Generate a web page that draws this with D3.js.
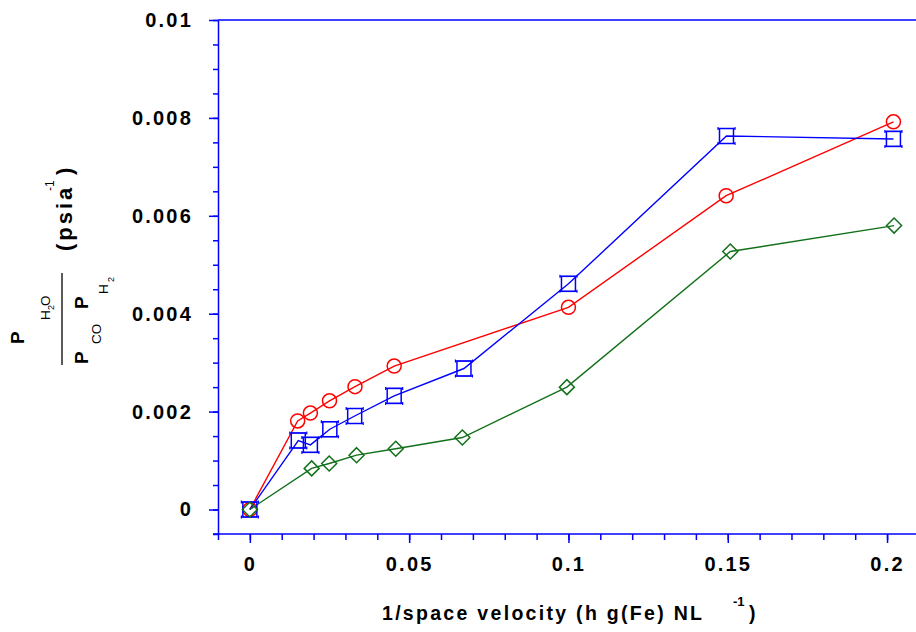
<!DOCTYPE html>
<html>
<head>
<meta charset="utf-8">
<script src="https://cdn.jsdelivr.net/npm/d3@7"></script>
<style>
  body { margin: 0; background: #fff; }
  text { font-family: "Liberation Sans", Arial, sans-serif; }
</style>
</head>
<body>
<div id="svg-container"></div>
<script>
// Chart values
const xTickValues = [0, 0.05, 0.1, 0.15, 0.2];
const xTickLabels = ["0", "0.05", "0.1", "0.15", "0.2"];
const yTickValues = [0, 0.002, 0.004, 0.006, 0.008, 0.01];
const yTickLabels = ["0", "0.002", "0.004", "0.006", "0.008", "0.01"];

const xRed = [0, 0.015, 0.019, 0.025, 0.033, 0.0453, 0.1, 0.1495, 0.202];
const yRed = [0, 0.00181, 0.00197, 0.00222, 0.00251, 0.00293, 0.00413, 0.00641, 0.00792];

const xBlue = [0, 0.0152, 0.019, 0.0251, 0.0329, 0.0453, 0.0672, 0.1, 0.1496, 0.202];
const yBlue = [0, 0.00141, 0.00132, 0.00164, 0.00191, 0.00232, 0.00288, 0.00461, 0.00763, 0.00757];

const xGreen = [0, 0.0194, 0.0249, 0.0335, 0.0458, 0.0667, 0.0995, 0.1508, 0.2022];
const yGreen = [0, 0.00084, 0.00094, 0.00111, 0.00124, 0.00147, 0.0025, 0.00527, 0.0058];

const width = 916;
const height = 632;
const axisColor = "#0000ff";

const series = [
  { name: "red", color: "#ff0000", marker: "circle", xs: xRed, ys: yRed },
  { name: "blue", color: "#0000ff", marker: "square", xs: xBlue, ys: yBlue },
  { name: "green", color: "#12701a", marker: "diamond", xs: xGreen, ys: yGreen }
].map(s => ({ ...s, values: s.xs.map((x, i) => ({ x: x, y: s.ys[i] })) }));

// Scales
const xScale = d3.scaleLinear().domain([-0.01, 0.21]).range([218, 218 + 0.22 * 3186]);
const yScale = d3.scaleLinear().domain([0, 0.01]).range([509.5, 20]);
const yBottom = -0.0005;

const svg = d3.select("#svg-container")
  .append("svg")
    .attr("width", width)
    .attr("height", height);

// Top frame line
svg.append("line")
  .attr("x1", xScale(-0.01)).attr("x2", width)
  .attr("y1", yScale(0.01)).attr("y2", yScale(0.01))
  .attr("stroke", axisColor).attr("stroke-width", 1.5);

// Minor ticks
const yMinor = d3.range(-0.0005, 0.01001, 0.0005);
const xMinor = d3.range(-0.01, 0.2101, 0.01);

const yScaleAxis = yScale.copy().domain([yBottom, 0.01]).range([yScale(yBottom), yScale(0.01)]);

svg.append("g")
  .attr("transform", `translate(${xScale(-0.01)},0)`)
  .call(d3.axisLeft(yScaleAxis).tickValues(yMinor).tickSize(5).tickSizeOuter(0).tickFormat(""))
  .call(g => g.select(".domain").remove());

svg.append("g")
  .attr("transform", `translate(0,${yScale(yBottom)})`)
  .call(d3.axisBottom(xScale).tickValues(xMinor).tickSize(6).tickSizeOuter(0).tickFormat(""))
  .call(g => g.select(".domain").remove());

// Major y axis
svg.append("g")
  .attr("transform", `translate(${xScale(-0.01)},0)`)
  .call(d3.axisLeft(yScaleAxis).tickValues(yTickValues).tickSize(9).tickPadding(16).tickSizeOuter(0)
    .tickFormat((d, i) => yTickLabels[i]));

// Major x axis
const xAxisG = svg.append("g")
  .attr("transform", `translate(0,${yScale(yBottom)})`)
  .call(d3.axisBottom(xScale).tickValues(xTickValues).tickSize(9).tickPadding(14).tickSizeOuter(0)
    .tickFormat((d, i) => xTickLabels[i]));

// bottom axis pokes out a little to the left
xAxisG.select(".domain").attr("d", `M${xScale(-0.01) - 5},0H${width}`);

svg.selectAll(".tick line").attr("stroke", axisColor).attr("stroke-width", 1.5);
svg.selectAll(".domain").attr("stroke", axisColor).attr("stroke-width", 1.5);
svg.selectAll(".tick text")
  .attr("fill", "#000")
  .style("font-family", "'Liberation Sans', Arial, sans-serif")
  .style("font-weight", "bold")
  .style("font-size", "20px")
  .style("letter-spacing", "2.2px");

// Lines
const line = d3.line().x(d => xScale(d.x)).y(d => yScale(d.y));

svg.selectAll(".series-line")
  .data(series)
  .enter()
  .append("path")
    .attr("class", "series-line")
    .attr("d", d => line(d.values))
    .attr("fill", "none")
    .attr("stroke", d => d.color)
    .attr("stroke-width", 1.4);

// Markers
const groups = svg.selectAll(".marks")
  .data(series)
  .enter()
  .append("g")
    .attr("class", "marks")
    .attr("stroke", d => d.color)
    .attr("fill", "none")
    .attr("stroke-width", 1.5);

groups.each(function(s) {
  const g = d3.select(this);
  const pts = g.selectAll("g.pt")
    .data(s.values)
    .enter()
    .append("g")
      .attr("class", "pt")
      .attr("transform", d => `translate(${xScale(d.x)},${yScale(d.y)})`);

  if (s.marker === "circle") {
    pts.append("circle").attr("r", 7);
  } else if (s.marker === "diamond") {
    pts.append("path").attr("d", "M0,-7.5L7.5,0L0,7.5L-7.5,0Z");
  } else {
    pts.append("rect").attr("x", -7).attr("y", -7.5).attr("width", 14).attr("height", 15);
    // short caps at the square corners
    pts.append("path").attr("d", "M-8.5,-7.5H8.5M-8.5,7.5H8.5M-8.5,-9V-6M8.5,-9V-6M-8.5,6V9M8.5,6V9")
      .attr("stroke-width", 1.2);
  }
});

// X axis title
const xTitle = svg.append("text")
  .attr("x", 382)
  .attr("y", 620)
  .attr("fill", "#000")
  .style("font-weight", "bold")
  .style("font-size", "19.5px")
  .style("letter-spacing", "2.3px");
xTitle.append("tspan").text("1/space velocity (h g(Fe) NL");
xTitle.append("tspan").attr("x", 733).attr("dy", -14).style("font-size", "13px").style("letter-spacing", "0px").text("-1");
xTitle.append("tspan").attr("x", 749).attr("dy", 14).text(")");

// Y axis title (rotated fraction), each piece rotated on its own
function rText(sx, sy, str, size, weight) {
  return svg.append("text")
    .attr("transform", `translate(${sx},${sy}) rotate(-90)`)
    .attr("fill", "#000")
    .style("font-size", size + "px")
    .style("font-weight", weight)
    .text(str);
}

// numerator
rText(24, 344, "P", 19, "bold");
rText(50, 320, "H", 13.5, "normal");
rText(54, 310, "2", 9, "normal");
rText(50, 306, "O", 13.5, "normal");
// fraction bar
svg.append("line")
  .attr("x1", 62).attr("x2", 62)
  .attr("y1", 273).attr("y2", 365)
  .attr("stroke", "#000").attr("stroke-width", 1.3);
// denominator
rText(88, 364, "P", 19, "bold");
rText(101, 344, "CO", 13.5, "normal");
rText(88, 309, "P", 19, "bold");
rText(108, 294, "H", 13.5, "normal");
rText(114, 282, "2", 9, "normal");
// units
rText(72, 251, "(psia", 22, "bold").style("letter-spacing", "3px");
rText(54, 191, "-1", 12, "normal");
rText(72, 175, ")", 22, "bold");
</script>
</body>
</html>
